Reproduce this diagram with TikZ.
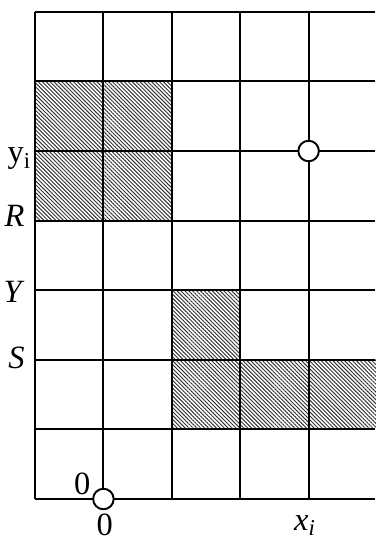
\documentclass[tikz,border=0pt]{standalone}
\usepackage{fontspec}
\setmainfont{Liberation Serif}
\usetikzlibrary{patterns.meta}

\begin{document}
\begin{tikzpicture}[x=1cm, y=1.0175cm, line width=0.8pt,
			rayado/.style={pattern={Lines[angle=-45, distance=1.15pt, line width=0.4pt]}, pattern color=black!80},
			etiqueta/.style={font=\fontsize{13.5}{15}\selectfont, inner sep=0pt},
			punto/.style={circle, draw, fill=white, minimum size=0.3cm, inner sep=0pt}]
			\useasboundingbox (-0.512,-0.589) rectangle (4.971,7.17);
			% celdas rayadas
			\foreach \cx/\cy in {0/5, 1/5, 0/4, 1/4, 2/2, 2/1, 3/1, 4/1}
				\fill[rayado] (\cx,\cy) rectangle ++(1,1);
			% reticula
			\foreach \gy in {0,...,7}
				\draw (0,\gy) -- (4.971,\gy);
			\foreach \gx in {0,...,4}
				\draw (\gx,0) -- (\gx,7);
			\node[punto] (origen) at (1,0) {};
			\node[punto] (punto) at (4,5) {};
			\node[etiqueta, anchor=base east] (yi) at (-0.04,4.83) {y\textsubscript{i}};
			\node[etiqueta, anchor=base east] (R) at (-0.14,3.91) {\textit{R}};
			\node[etiqueta, anchor=base east] (Y) at (-0.14,2.82) {\textit{Y}};
			\node[etiqueta, anchor=base east] (S) at (-0.14,1.88) {\textit{S}};
			\node[etiqueta, anchor=base] (cero) at (0.69,0.06) {0};
			\node[etiqueta, anchor=base] (ceroX) at (1.02,-0.53) {0};
			\node[etiqueta, anchor=base] (xi) at (3.95,-0.45) {\textit{x\textsubscript{i}}};
		\end{tikzpicture}
\end{document}
